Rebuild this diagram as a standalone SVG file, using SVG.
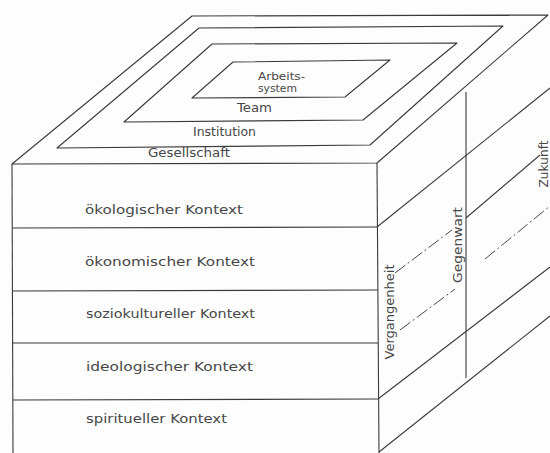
<svg xmlns="http://www.w3.org/2000/svg" width="550" height="453" viewBox="0 0 550 453">
  <style>
    .ln { fill: none; stroke: #3a3a3a; stroke-width: 1.1; stroke-linejoin: round; }
    .dash { fill: none; stroke: #4a4a4a; stroke-width: 1; stroke-dasharray: 13 3 2 3; }
    .lbl { font-family: "DejaVu Sans", "Liberation Sans", sans-serif; fill: #474747; }
    .front { font-size: 13px; }
    .top { font-size: 12px; }
    .small { font-size: 10.5px; }
  </style>
  <rect x="0" y="0" width="550" height="453" fill="#fdfdfd"/>

  <g id="top-face">
    <polygon class="ln" points="192,16 548,15 377,163 12,164"/>
    <g id="gesellschaft">
      <polygon class="ln" points="199,28 503,26 370,145 57,148"/>
      <text class="lbl top" x="148" y="157" textLength="82" lengthAdjust="spacingAndGlyphs">Gesellschaft</text>
    </g>
    <g id="institution">
      <polygon class="ln" points="212,44 457,43 363,120 124,122"/>
      <text class="lbl top" x="193" y="136" textLength="63" lengthAdjust="spacingAndGlyphs">Institution</text>
    </g>
    <g id="team">
      <text class="lbl top" x="237" y="112" textLength="35" lengthAdjust="spacingAndGlyphs">Team</text>
    </g>
    <g id="arbeitssystem">
      <polygon class="ln" points="233,62 390,60 345,97 192,98"/>
      <text class="lbl small" x="258" y="79.5" textLength="47" lengthAdjust="spacingAndGlyphs">Arbeits-</text>
      <text class="lbl small" x="258" y="92" textLength="39" lengthAdjust="spacingAndGlyphs">system</text>
    </g>
  </g>

  <g id="front-face">
    <polyline class="ln" points="12,164 13,453"/>
    <polyline class="ln" points="377,163 379,453"/>
    <g id="oekologisch">
      <text class="lbl front" x="85" y="214" textLength="158" lengthAdjust="spacingAndGlyphs">ökologischer Kontext</text>
      <line class="ln" x1="12" y1="228" x2="377" y2="227"/>
    </g>
    <g id="oekonomisch">
      <text class="lbl front" x="85" y="266" textLength="170" lengthAdjust="spacingAndGlyphs">ökonomischer Kontext</text>
      <line class="ln" x1="12" y1="291" x2="378" y2="290"/>
    </g>
    <g id="soziokulturell">
      <text class="lbl front" x="86" y="318" textLength="169" lengthAdjust="spacingAndGlyphs">soziokultureller Kontext</text>
      <line class="ln" x1="12" y1="343" x2="378" y2="343"/>
    </g>
    <g id="ideologisch">
      <text class="lbl front" x="86" y="371" textLength="167" lengthAdjust="spacingAndGlyphs">ideologischer Kontext</text>
      <line class="ln" x1="13" y1="400" x2="378" y2="399"/>
    </g>
    <g id="spirituell">
      <text class="lbl front" x="86" y="423" textLength="141" lengthAdjust="spacingAndGlyphs">spiritueller Kontext</text>
    </g>
  </g>

  <g id="side-face">
    <line class="ln" x1="377" y1="227" x2="550" y2="88"/>
    <line class="ln" x1="378" y1="399" x2="550" y2="267"/>
    <line class="ln" x1="379" y1="452" x2="550" y2="316"/>
    <g id="vergangenheit">
      <line class="dash" x1="395" y1="273" x2="452" y2="230"/>
      <line class="dash" x1="400" y1="330" x2="455" y2="289"/>
      <text class="lbl top" transform="translate(394,312) rotate(-90)" text-anchor="middle" textLength="95" lengthAdjust="spacingAndGlyphs">Vergangenheit</text>
    </g>
    <g id="gegenwart">
      <line class="ln" x1="466" y1="92" x2="466" y2="378"/>
      <text class="lbl top" transform="translate(462,245) rotate(-90)" text-anchor="middle" textLength="76" lengthAdjust="spacingAndGlyphs">Gegenwart</text>
    </g>
    <g id="zukunft">
      <line class="ln" x1="466" y1="218" x2="540" y2="155"/>
      <line class="dash" x1="485" y1="259" x2="550" y2="206"/>
      <text class="lbl top" transform="translate(547.5,164) rotate(-90)" text-anchor="middle" textLength="47" lengthAdjust="spacingAndGlyphs">Zukunft</text>
    </g>
  </g>
</svg>
